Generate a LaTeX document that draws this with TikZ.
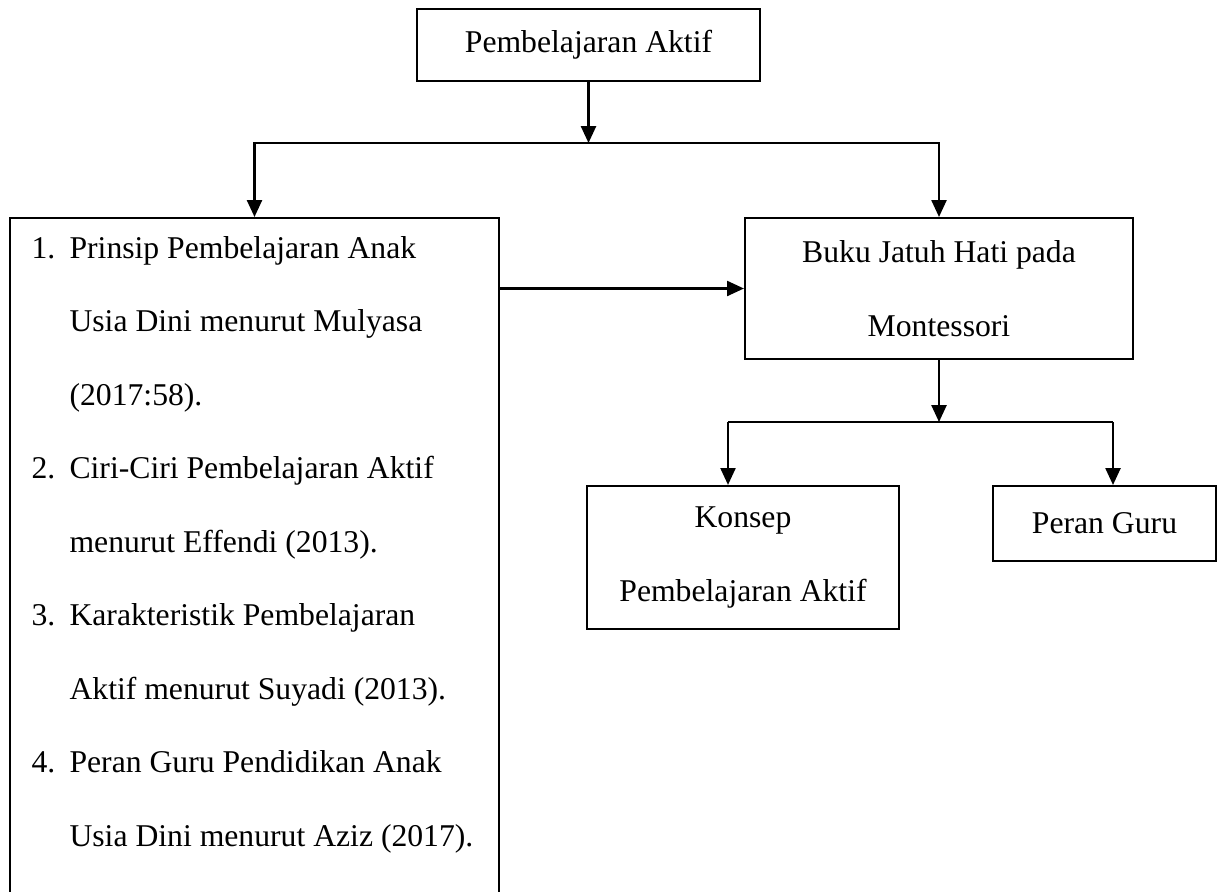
\documentclass[tikz,border=0pt]{standalone}
\usepackage{fontspec}
\setmainfont{Liberation Serif}
\usetikzlibrary{arrows.meta}
\begin{document}
\begin{tikzpicture}[x=0.3788pt,y=-0.3788pt,
  txt/.style={font=\fontsize{12pt}{27.84pt}\selectfont},
  box/.style={txt, draw, line width=0.8pt, inner sep=0pt, align=center},
  conn/.style={line width=0.8pt},
  arr/.style={conn, -{Triangle[length=6.4pt,width=5.7pt]}},
  listline/.style={txt, anchor=base west, inner sep=0pt}]
\useasboundingbox (0,0) rectangle (1219,891);
\clip (0,0) rectangle (1219,891);
% boxes
\node[box, minimum width=129.9pt, minimum height=27.3pt] (top) at (588.5,45) {Pembelajaran Aktif};
\node[box, minimum width=185.2pt, minimum height=296.2pt] (lbox) at (254.5,609) {};
\node[box, minimum width=147.0pt, minimum height=53.4pt] (buku) at (939,288.5) {Buku Jatuh Hati pada\\Montessori};
\node[box, minimum width=118.2pt, minimum height=54.2pt] (konsep) at (743,557.5) {Konsep\\Pembelajaran Aktif};
\node[box, minimum width=84.5pt, minimum height=28.4pt] (peran) at (1104.5,523.5) {Peran Guru};
% list text
\node[listline] (l1) at (31,258) {\makebox[14.4pt][l]{1.}Prinsip Pembelajaran Anak};
\node[listline] (l2) at (31,331.5) {\hspace*{14.4pt}Usia Dini menurut Mulyasa};
\node[listline] (l3) at (31,405) {\hspace*{14.4pt}(2017:58).};
\node[listline] (l4) at (31,478.5) {\makebox[14.4pt][l]{2.}Ciri-Ciri Pembelajaran Aktif};
\node[listline] (l5) at (31,552) {\hspace*{14.4pt}menurut Effendi (2013).};
\node[listline] (l6) at (31,625.5) {\makebox[14.4pt][l]{3.}Karakteristik Pembelajaran};
\node[listline] (l7) at (31,699) {\hspace*{14.4pt}Aktif menurut Suyadi (2013).};
\node[listline] (l8) at (31,772.5) {\makebox[14.4pt][l]{4.}Peran Guru Pendidikan Anak};
\node[listline] (l9) at (31,846) {\hspace*{14.4pt}Usia Dini menurut Aziz (2017).};
% junctions
\coordinate (j1) at (588.5,143);
\coordinate (k1) at (728,422);
\coordinate (k2) at (1113,422);
% connectors
\draw[arr] (top.south) -- (j1);
\draw[arr] (j1) -| (lbox.north);
\draw[arr] (j1) -| (buku.north);
\draw[arr] (lbox.east |- buku.west) -- (buku.west);
\draw[arr] (buku.south) -- (buku.south |- k1);
\draw[conn] (k1) -- (k2);
\draw[arr] (k1) -- (k1 |- konsep.north);
\draw[arr] (k2) -- (k2 |- peran.north);
\end{tikzpicture}
\end{document}
